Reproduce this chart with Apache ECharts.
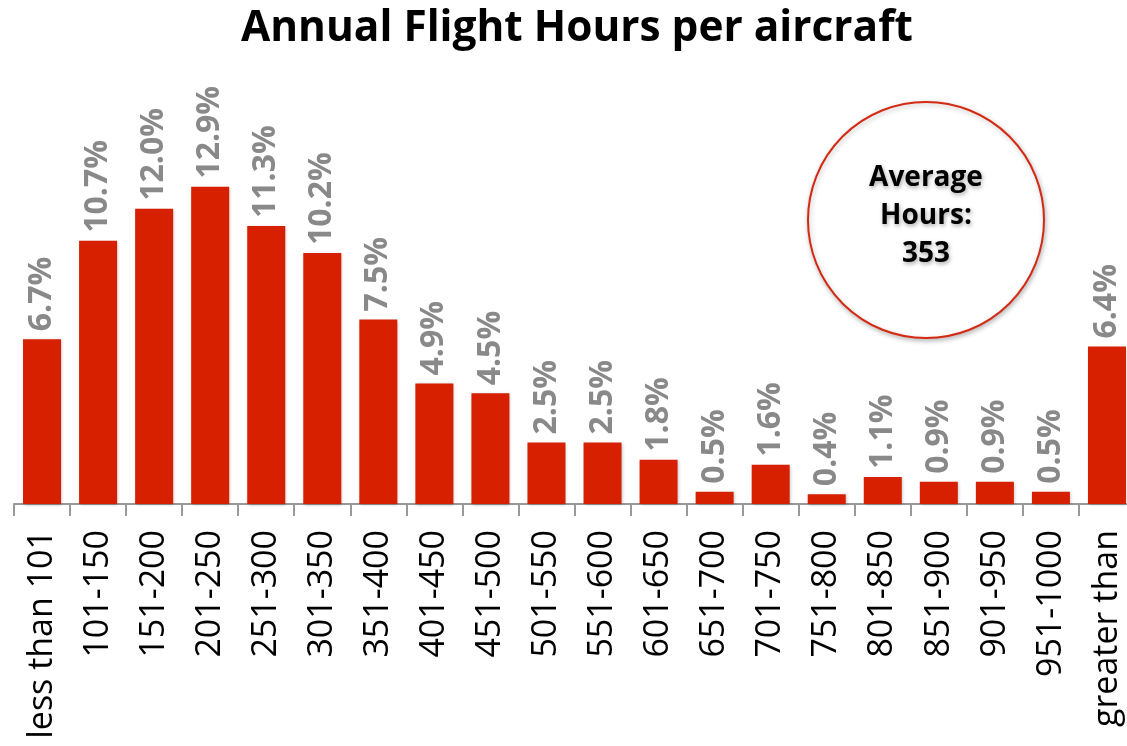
<!DOCTYPE html>
<html>
<head>
<meta charset="utf-8">
<script src="https://cdn.jsdelivr.net/npm/echarts@6/dist/echarts.min.js"></script>
<style>
html,body{margin:0;padding:0;background:#fff;}
#chart{width:1127px;height:746px;}
</style>
</head>
<body>
<div id="chart"></div>
<script>
const titleText = 'Annual Flight Hours per aircraft';
const categories = ['less than 101','101-150','151-200','201-250','251-300','301-350','351-400','401-450','451-500','501-550','551-600','601-650','651-700','701-750','751-800','801-850','851-900','901-950','951-1000','greater than 1000'];
const shares = [6.7,10.7,12.0,12.9,11.3,10.2,7.5,4.9,4.5,2.5,2.5,1.8,0.5,1.6,0.4,1.1,0.9,0.9,0.5,6.4];
const averageLines = ['Average', 'Hours:', '353'];

const chart = echarts.init(document.getElementById('chart'), null, {renderer:'canvas'});
const FONT = '"Open Sans", Lato, sans-serif';
chart.setOption({
  animation:false,
  backgroundColor:'#ffffff',
  title:{
    text:titleText, left:236, top:3,
    textStyle:{fontFamily:FONT, fontWeight:'bold', fontSize:42.4, color:'#000'}
  },
  grid:{left:14, right:-8, top:12, bottom:242, containLabel:false, outerBoundsMode:'none'},
  xAxis:{
    type:'category', data:categories,
    axisLine:{show:true, lineStyle:{color:'#999', width:2}},
    axisTick:{show:true, interval:0, length:12, lineStyle:{color:'#999', width:2}},
    axisLabel:{rotate:90, interval:0, margin:26, color:'#000', fontFamily:FONT, fontSize:34, lineHeight:36, hideOverlap:false,
      formatter:v => v === 'greater than 1000' ? ' \ngreater than\n1000' : v}
  },
  yAxis:{type:'value', min:0, max:20, show:false, splitLine:{show:false}},
  series:[{
    type:'bar', data:shares, barWidth:38,
    itemStyle:{color:'#d62000', shadowColor:'rgba(0,0,0,0.25)', shadowBlur:3, shadowOffsetX:1, shadowOffsetY:1},
    label:{
      show:true, position:'top', rotate:90, align:'left', verticalAlign:'middle', distance:8,
      formatter:p=>p.value.toFixed(1)+'%',
      color:'#898989', fontFamily:FONT, fontWeight:'bold', fontSize:32
    }
  }],
  graphic:[
    {type:'circle', shape:{cx:926, cy:220, r:118},
     style:{fill:'#fff', stroke:'#d42a14', lineWidth:2, shadowColor:'rgba(0,0,0,0.25)', shadowBlur:5, shadowOffsetX:1, shadowOffsetY:2}},
    {type:'text', x:926, y:216,
     style:{text:averageLines.join('\n'), fill:'#000', font:'bold 28px '+FONT, lineHeight:38, align:'center', verticalAlign:'middle',
       textShadowColor:'rgba(0,0,0,0.35)', textShadowBlur:4, textShadowOffsetX:1, textShadowOffsetY:2}}
  ]
});
</script>
</body>
</html>
